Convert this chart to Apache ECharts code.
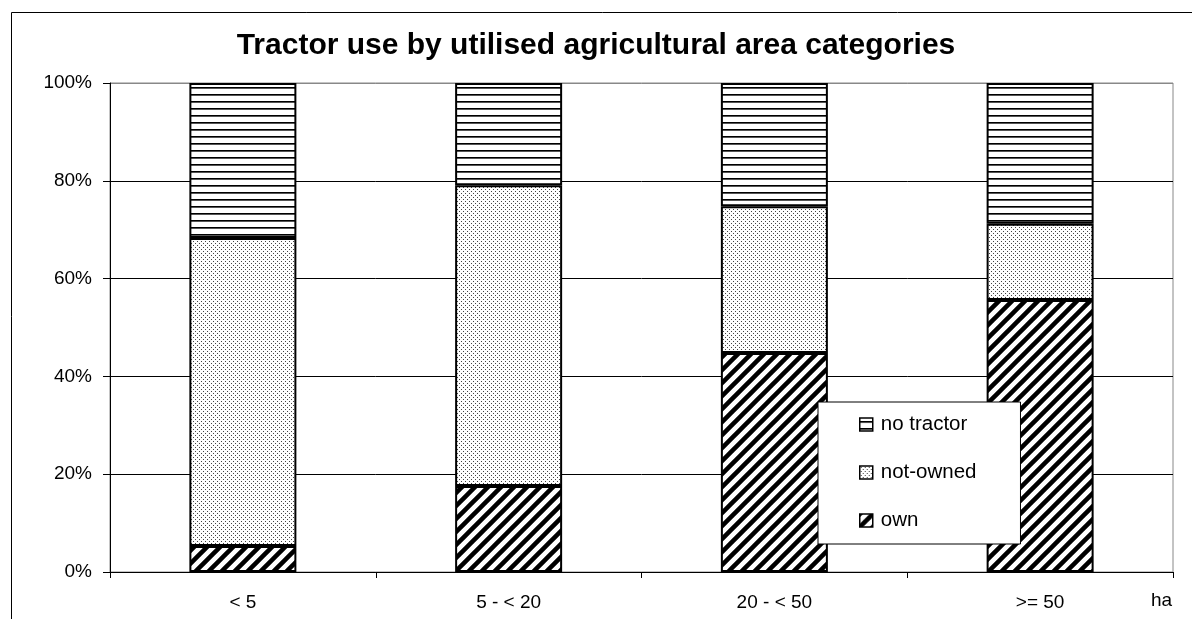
<!DOCTYPE html>
<html>
<head>
<meta charset="utf-8">
<script src="https://cdn.jsdelivr.net/npm/echarts@6/dist/echarts.min.js"></script>
<style>
  html, body { margin: 0; padding: 0; background: #fff; }
  #chart { width: 1192px; height: 619px; }
</style>
</head>
<body>
<div id="chart"></div>
<script>
// categories and shares (%)
const categories = ["< 5", "5 - < 20", "20 - < 50", ">= 50"];
const own = [5.3, 17.6, 44.8, 55.6];
const notOwned = [63.0, 61.5, 30.0, 15.6];
const noTractor = own.map((v, i) => +(100 - v - notOwned[i]).toFixed(1));
const yTicks = [0, 20, 40, 60, 80, 100];

// fill patterns drawn on small canvases
function stripesH() {
  const c = document.createElement("canvas");
  c.width = 8; c.height = 7;
  const g = c.getContext("2d");
  g.fillStyle = "#fff"; g.fillRect(0, 0, 8, 7);
  g.fillStyle = "#000"; g.fillRect(0, 3, 8, 1);
  g.fillStyle = "#555"; g.fillRect(0, 4, 8, 1);
  return c;
}
function dots() {
  const c = document.createElement("canvas");
  c.width = 4; c.height = 4;
  const g = c.getContext("2d");
  g.fillStyle = "#fff"; g.fillRect(0, 0, 4, 4);
  g.fillStyle = "#444";
  g.fillRect(1, 1, 1, 1);
  g.fillRect(3, 3, 1, 1);
  return c;
}
function diag() {
  const s = 13;
  const c = document.createElement("canvas");
  c.width = s; c.height = s;
  const g = c.getContext("2d");
  g.fillStyle = "#fff"; g.fillRect(0, 0, s, s);
  g.strokeStyle = "#000"; g.lineWidth = 4.5;
  g.beginPath();
  g.moveTo(-s, 2 * s); g.lineTo(2 * s, -s);
  g.moveTo(-s, s); g.lineTo(s, -s);
  g.moveTo(0, 2 * s); g.lineTo(2 * s, 0);
  g.stroke();
  return c;
}

const font = "'Liberation Sans', Arial, sans-serif";
const chart = echarts.init(document.getElementById("chart"));

function barSeries(name, data, pattern) {
  return {
    name: name,
    type: "bar",
    stack: "total",
    barWidth: 107,
    data: data,
    itemStyle: {
      color: { image: pattern, repeat: "repeat" },
      borderColor: "#000",
      borderWidth: 2
    },
    emphasis: { disabled: true }
  };
}

chart.setOption({
  animation: false,
  textStyle: { fontFamily: font, color: "#000" },
  title: {
    text: "Tractor use by utilised agricultural area categories",
    left: "center",
    top: 26,
    textStyle: { fontFamily: font, fontSize: 30, fontWeight: "bold", color: "#000" }
  },
  grid: {
    left: 110, right: 19, top: 83, bottom: 47,
    show: true, borderColor: "#888", borderWidth: 1, backgroundColor: "transparent"
  },
  legend: {
    orient: "vertical",
    left: 818,
    top: 402,
    padding: [12, 44, 13, 41],
    itemGap: 27,
    itemWidth: 13,
    itemHeight: 13,
    icon: "rect",
    backgroundColor: "#fff",
    borderColor: "#000",
    borderWidth: 1,
    data: ["no tractor", "not-owned", "own"],
    itemStyle: { borderColor: "#000", borderWidth: 1.5 },
    textStyle: { fontFamily: font, fontSize: 20.5, lineHeight: 20, color: "#000", padding: [0, 0, 0, 3] }
  },
  xAxis: {
    type: "category",
    data: categories,
    axisLine: { lineStyle: { color: "#000", width: 1 } },
    axisTick: { show: true, length: 6, lineStyle: { color: "#000" } },
    axisLabel: { fontFamily: font, fontSize: 19, color: "#000", margin: 21 }
  },
  yAxis: {
    type: "value",
    min: yTicks[0],
    max: yTicks[yTicks.length - 1],
    interval: 20,
    axisLine: { show: true, lineStyle: { color: "#000", width: 1 } },
    axisTick: { show: true, length: 7, lineStyle: { color: "#000" } },
    axisLabel: { fontFamily: font, fontSize: 19, color: "#000", margin: 18, formatter: "{value}%" },
    splitLine: { show: true, lineStyle: { color: ["#000", "#000", "#000", "#000", "#000", "#888"], width: 1 } }
  },
  graphic: [
    {
      type: "rect",
      shape: { x: 11.5, y: 12.5, width: 1300, height: 700 },
      style: { fill: "none", stroke: "#000", lineWidth: 1 },
      silent: true, z: -1
    },
    {
      type: "text",
      left: 1151, top: 591,
      style: { text: "ha", font: "19px " + font, fill: "#000" }
    }
  ],
  series: [
    barSeries("own", own, diag()),
    barSeries("not-owned", notOwned, dots()),
    barSeries("no tractor", noTractor, stripesH())
  ]
});
</script>
</body>
</html>
